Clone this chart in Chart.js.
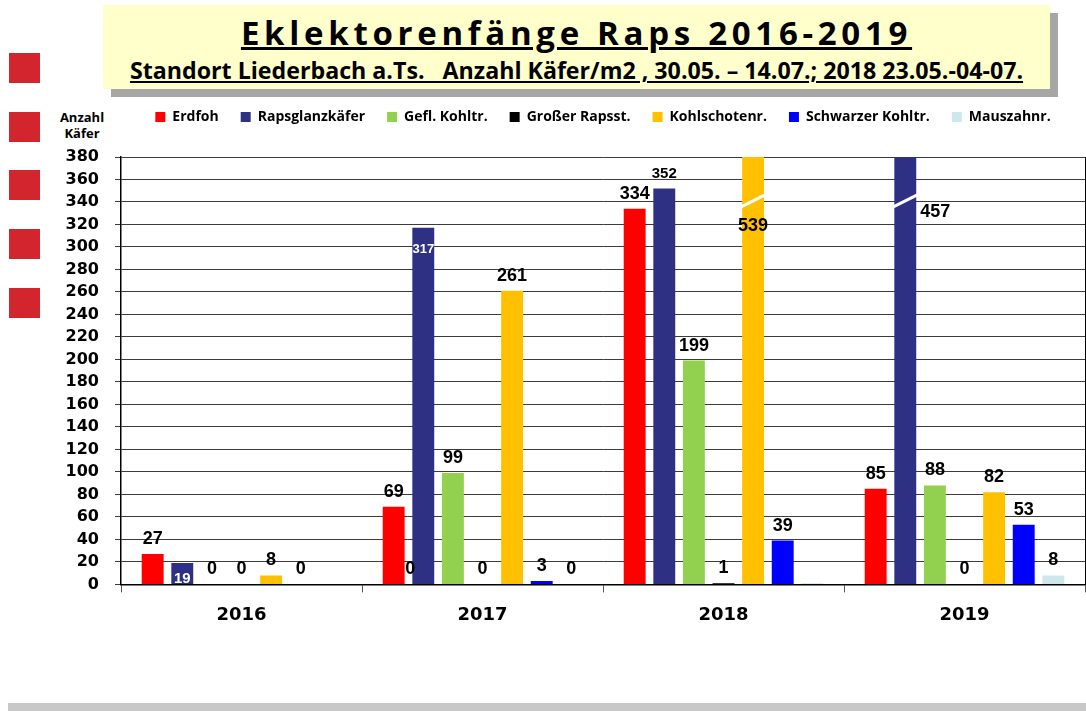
<!DOCTYPE html>
<html lang="de">
<head>
<meta charset="utf-8">
<title>Eklektorenfänge Raps 2016-2019</title>
<script src="https://cdn.jsdelivr.net/npm/chart.js@4.4.1/dist/chart.umd.min.js"></script>
<style>
  html, body { margin: 0; padding: 0; background: #fff; }
  body { width: 1086px; height: 711px; position: relative; overflow: hidden; font-family: "Open Sans", sans-serif; }
  #kopf { position: absolute; left: 103px; top: 5px; width: 947px; height: 84px; background: #ffffcc; box-shadow: 8px 8px 0 #a6a6a6; text-align: center; }
  #kopf h1 { margin: 0; padding-top: 7px; font-size: 33px; line-height: 42px; letter-spacing: 4.7px; font-weight: 700; text-decoration: underline; text-decoration-thickness: 3px; }
  #kopf h2 { margin: 1px 0 0 0; font-size: 23.2px; line-height: 30px; font-weight: 700; text-decoration: underline; white-space: pre; }
  .quadrat { position: absolute; left: 9px; width: 31px; height: 30px; background: #d3252e; }
  #einheit { position: absolute; left: 52px; top: 109px; width: 60px; text-align: center; font-size: 13px; font-weight: 700; line-height: 16px; }
  #fuss { position: absolute; left: 8px; top: 703px; width: 1078px; height: 8px; background: #c8c8c8; }
  #grafik { position: absolute; left: 0; top: 88px; }
</style>
</head>
<body>
<div id="kopf">
  <h1>Eklektorenfänge Raps 2016-2019</h1>
  <h2>Standort Liederbach a.Ts.   Anzahl Käfer/m2 , 30.05. – 14.07.; 2018 23.05.-04-07.</h2>
</div>
<div class="quadrat" style="top:53px"></div>
<div class="quadrat" style="top:112px"></div>
<div class="quadrat" style="top:170px"></div>
<div class="quadrat" style="top:229px"></div>
<div class="quadrat" style="top:288px"></div>
<div id="einheit">Anzahl<br>Käfer</div>
<canvas id="grafik" width="1086" height="550"></canvas>
<div id="fuss"></div>

<script>
// Werte
const jahre = ["2016", "2017", "2018", "2019"];
const erdfoh = [27, 69, 334, 85];
const rapsglanzkaefer = [19, 317, 352, 457];
const geflKohltr = [0, 99, 199, 88];
const grosserRapsst = [0, 0, 1, 0];
const kohlschotenr = [8, 261, 539, 82];
const schwarzerKohltr = [0, 3, 39, 53];
const mauszahnr = [null, 0, 1, 8];

const yMax = 380;
const yStep = 20;
const bruchWert = 341; // dort wird der zu hohe Balken "abgebrochen"

// Beschriftungen die anders sitzen als normal (Datensatz-Jahr)
const sonderfaelle = {
  "1-0": { farbe: "#fff", groesse: 15, dy: 16 },
  "1-1": { farbe: "#fff", groesse: 13, dy: 22 },
  "1-2": { groesse: 15 },
  "4-2": { dy: 25, dx: 0 },
  "1-3": { dy: 11, dx: 30 },
  "6-2": { aus: true }
};
// zusätzliche "0" im Jahr 2017 links am Rapsglanzkäfer-Balken
const extraLabels = [{ datensatz: 1, jahr: 1, text: "0" }];

const schrift = "Liberation Sans, Arial, sans-serif";

const legendeAbstand = {
  id: "legendeAbstand",
  beforeInit(chart) {
    const fit = chart.legend.fit;
    chart.legend.fit = function () {
      fit.call(this);
      this.height += 23;
    };
  }
};

const wertBeschriftung = {
  id: "wertBeschriftung",
  afterDatasetsDraw(chart) {
    const ctx = chart.ctx;
    const y = chart.scales.y;
    const area = chart.chartArea;
    ctx.save();
    ctx.beginPath();
    ctx.rect(area.left, area.top, area.right - area.left, area.bottom - area.top);
    ctx.clip();
    ctx.textAlign = "center";
    ctx.textBaseline = "middle";

    chart.data.datasets.forEach((ds, i) => {
      const meta = chart.getDatasetMeta(i);
      meta.data.forEach((bar, j) => {
        const wert = ds.data[j];
        if (wert === null || wert === undefined) return;
        const t = sonderfaelle[i + "-" + j] || {};
        let px = bar.x;
        let py = bar.y + (t.dy !== undefined ? t.dy : -15);

        if (wert > yMax) {
          // Balken oben abgeschnitten, weißer Bruchstrich
          const by = y.getPixelForValue(bruchWert);
          ctx.strokeStyle = "#fff";
          ctx.lineWidth = 3;
          ctx.beginPath();
          ctx.moveTo(bar.x - bar.width / 2 - 1, by + 6);
          ctx.lineTo(bar.x + bar.width / 2 + 1, by - 6);
          ctx.stroke();
          px = bar.x + (t.dx || 0);
          py = by + (t.dy || 0);
        }
        if (t.aus) return;

        ctx.fillStyle = t.farbe || "#000";
        ctx.font = "bold " + (t.groesse || 18) + "px " + schrift;
        ctx.fillText(String(wert), px, py);
      });
    });

    extraLabels.forEach((e) => {
      const bar = chart.getDatasetMeta(e.datensatz).data[e.jahr];
      ctx.fillStyle = "#000";
      ctx.font = "bold 18px " + schrift;
      ctx.fillText(e.text, bar.x - bar.width / 2 - 2, y.getPixelForValue(0) - 15);
    });
    ctx.restore();
  }
};

function balken(name, werte, farbe) {
  return {
    label: name,
    data: werte,
    backgroundColor: farbe,
    borderWidth: 0,
    yAxisID: "y"
  };
}

new Chart(document.getElementById("grafik"), {
  type: "bar",
  data: {
    labels: jahre,
    datasets: [
      balken("Erdfoh", erdfoh, "#ff0000"),
      balken("Rapsglanzkäfer", rapsglanzkaefer, "#2e3084"),
      balken("Gefl. Kohltr.", geflKohltr, "#92d050"),
      balken("Großer Rapsst.", grosserRapsst, "#000000"),
      balken("Kohlschotenr.", kohlschotenr, "#ffc000"),
      balken("Schwarzer Kohltr.", schwarzerKohltr, "#0000ff"),
      balken("Mauszahnr.", mauszahnr, "#cde8ec")
    ]
  },
  options: {
    responsive: false,
    animation: false,
    layout: { padding: { right: 1 } },
    datasets: { bar: { categoryPercentage: 0.86, barPercentage: 0.74 } },
    plugins: {
      legend: {
        fullSize: false,
        labels: {
          boxWidth: 10,
          boxHeight: 10,
          padding: 22,
          color: "#000",
          font: { family: "Open Sans", size: 14, weight: "bold" }
        }
      },
      tooltip: { enabled: false }
    },
    scales: {
      x: {
        grid: { offset: true, drawOnChartArea: false, tickLength: 8, color: "#555" },
        border: { color: "#000", width: 1.5 },
        ticks: { color: "#000", padding: 12, font: { family: "DejaVu Sans", size: 18, weight: "bold" } }
      },
      y: {
        min: 0,
        max: yMax,
        ticks: {
          stepSize: yStep,
          autoSkip: false,
          color: "#000",
          padding: 16,
          font: { family: "DejaVu Sans", size: 16, weight: "bold" }
        },
        grid: { color: "#3c3c3c", tickLength: 6 },
        border: { color: "#000", width: 1.5 },
        afterFit(s) { s.width = 121; }
      },
      rechts: {
        type: "linear",
        position: "right",
        grid: { display: false },
        ticks: { display: false },
        border: { color: "#000", width: 1 },
        afterFit(s) { s.width = 0; }
      }
    }
  },
  plugins: [legendeAbstand, wertBeschriftung]
});
</script>
</body>
</html>
